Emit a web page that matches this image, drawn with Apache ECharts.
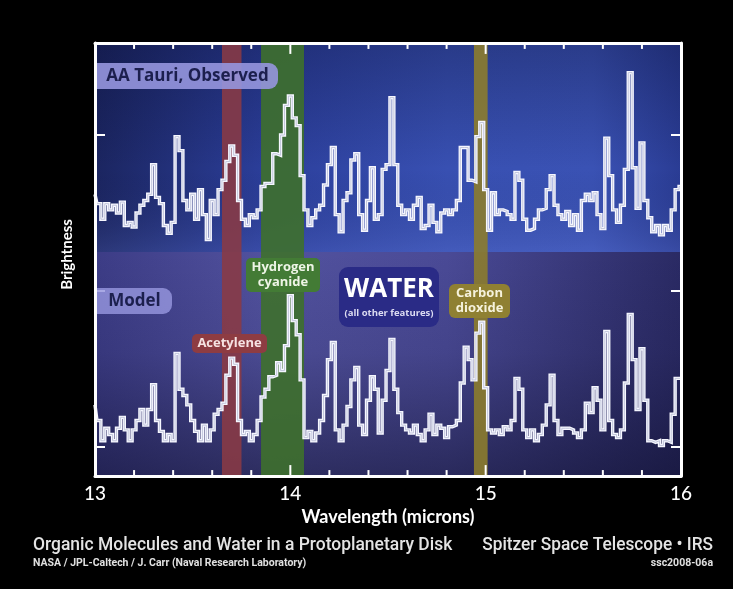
<!DOCTYPE html>
<html>
<head>
<meta charset="utf-8">
<script src="https://cdn.jsdelivr.net/npm/echarts@6/dist/echarts.min.js"></script>
<style>
  html, body { margin: 0; padding: 0; background: #000; }
  #chart { width: 733px; height: 589px; }
</style>
</head>
<body>
<div id="chart"></div>
<script>
// Spectral sampling grid (microns)
const wavelength = [
  13.00,13.02,13.04,13.06,13.08,13.10,13.12,13.14,13.16,13.18,
  13.20,13.22,13.24,13.26,13.28,13.30,13.32,13.34,13.36,13.38,
  13.40,13.42,13.44,13.46,13.48,13.50,13.52,13.54,13.56,13.58,
  13.60,13.62,13.64,13.66,13.68,13.70,13.72,13.74,13.76,13.78,
  13.80,13.82,13.84,13.86,13.88,13.90,13.92,13.94,13.96,13.98,
  14.00,14.02,14.04,14.06,14.08,14.10,14.12,14.14,14.16,14.18,
  14.20,14.22,14.24,14.26,14.28,14.30,14.32,14.34,14.36,14.38,
  14.40,14.42,14.44,14.46,14.48,14.50,14.52,14.54,14.56,14.58,
  14.60,14.62,14.64,14.66,14.68,14.70,14.72,14.74,14.76,14.78,
  14.80,14.82,14.84,14.86,14.88,14.90,14.92,14.94,14.96,14.98,
  15.00,15.02,15.04,15.06,15.08,15.10,15.12,15.14,15.16,15.18,
  15.20,15.22,15.24,15.26,15.28,15.30,15.32,15.34,15.36,15.38,
  15.40,15.42,15.44,15.46,15.48,15.50,15.52,15.54,15.56,15.58,
  15.60,15.62,15.64,15.66,15.68,15.70,15.72,15.74,15.76,15.78,
  15.80,15.82,15.84,15.86,15.88,15.90,15.92,15.94,15.96,15.98,
  16.00
];

// AA Tauri observed spectrum (offset brightness units)
const observed = [
  16.2,15.6,14.6,15.6,15.2,15.5,15.0,15.7,14.2,14.4,
  14.1,15.0,15.5,15.8,16.2,18.1,16.0,15.6,14.2,13.7,
  14.4,19.9,19.0,15.8,15.2,16.2,14.6,16.5,14.9,13.3,
  15.8,14.9,16.5,17.1,18.3,19.3,18.7,15.8,14.6,14.2,
  14.9,14.7,15.2,16.7,16.9,16.9,18.8,18.7,20.0,21.9,
  22.5,21.1,20.6,17.4,15.2,14.2,14.7,15.2,15.5,16.8,
  18.1,19.2,14.9,13.8,15.8,16.3,18.4,18.8,14.9,13.9,
  15.8,17.9,14.6,14.9,17.8,18.1,22.4,18.1,15.5,14.9,
  15.2,14.6,15.5,16.0,14.0,14.2,15.5,14.4,13.8,15.0,
  15.2,14.9,15.2,15.8,19.2,19.2,17.1,17.0,19.9,20.8,
  16.5,13.9,16.3,14.9,15.2,15.1,14.9,14.6,17.6,17.1,
  14.6,13.9,14.0,14.6,15.2,15.3,16.5,17.4,15.5,14.9,
  14.6,15.1,14.2,14.9,13.9,15.8,16.2,15.8,16.3,14.9,
  14.0,19.8,17.4,15.2,14.4,15.5,17.8,24.0,17.9,15.3,
  19.5,15.8,14.7,13.8,14.2,13.6,14.2,13.9,15.2,16.5,
  16.7
];

// Model spectrum (offset brightness units)
const model = [
  2.7,1.7,0.4,1.2,0.8,0.4,1.2,1.9,1.1,0.4,
  1.1,1.7,2.4,1.4,2.4,4.0,1.7,1.0,0.4,0.8,
  0.4,6.0,3.7,3.3,2.7,1.7,1.0,0.4,1.4,0.4,
  1.1,2.1,2.4,2.8,4.6,5.7,5.3,1.7,0.8,1.0,
  0.4,0.8,1.7,3.2,3.7,4.5,4.6,5.4,4.9,6.5,
  9.7,8.1,7.2,4.3,0.6,1.0,0.4,0.9,1.7,3.3,
  5.6,6.7,1.1,0.4,1.4,2.6,4.3,5.1,1.4,0.8,
  3.0,4.5,3.7,0.9,3.0,4.9,6.9,3.7,2.2,1.4,
  1.1,0.9,1.4,0.8,0.4,1.1,2.1,0.8,1.4,1.2,
  0.6,1.3,1.4,1.7,4.1,6.4,5.6,4.3,7.3,8.0,
  3.8,1.1,0.9,1.1,0.8,1.3,1.1,1.7,4.4,3.7,
  1.1,0.6,1.1,0.4,0.8,1.4,2.7,4.6,1.7,0.8,
  1.2,1.2,1.1,0.9,0.6,1.1,2.8,2.2,3.8,3.0,
  1.1,7.4,1.7,0.8,0.6,1.1,4.1,8.5,5.6,2.4,
  6.3,3.0,0.4,0.3,0.4,0.1,0.4,0.3,2.1,4.4,
  4.4
];

// Axis ticks
const xTicks = [13, 14, 15, 16];
const xMinorTicks = [13.2, 13.4, 13.6, 13.8, 14.2, 14.4, 14.6, 14.8, 15.2, 15.4, 15.6, 15.8];
const yTicks = [0, 10, 20];
const xRange = [13, 16];
const yRange = [-1.86, 25.9];

// Boundary between the observed panel (above) and the model panel (below)
const panelSplit = 12.5;

// Molecular bands (microns)
const bandNames = ['Acetylene', 'Hydrogen cyanide', 'Carbon dioxide'];
const bandFrom = [13.65, 13.85, 14.94];
const bandTo = [13.75, 14.07, 15.01];
const bandColors = ['rgba(138,58,68,0.88)', 'rgba(62,112,44,0.9)', 'rgba(140,124,46,0.9)'];

const chart = echarts.init(document.getElementById('chart'), null, { renderer: 'canvas' });

function pairs(values) {
  return values.map((v, i) => [wavelength[i], v]);
}

const white = '#ffffff';

// Inward tick marks along the top and bottom frame: [wavelength, from, to] in axis units
const majorTickLen = 0.7;
const minorTickLen = 0.38;
function frameTicks(values, len) {
  const out = [];
  values.forEach(v => {
    out.push([v, yRange[0], yRange[0] + len]);
    out.push([v, yRange[1], yRange[1] - len]);
  });
  return out;
}

function xAxisDef(position, extra) {
  return Object.assign({
    type: 'value',
    position: position,
    min: xRange[0],
    max: xRange[1],
    interval: 1,
    z: 10,
    splitLine: { show: false },
    axisLine: { show: true, onZero: false, lineStyle: { color: white, width: 3 } },
    axisTick: { show: false },
    axisLabel: { show: false }
  }, extra || {});
}

const yCommon = {
  type: 'value',
  min: yRange[0],
  max: yRange[1],
  z: 10,
  splitLine: { show: false },
  axisLine: { show: true, onZero: false, lineStyle: { color: white, width: 3 } },
  axisTick: { show: true, inside: true, length: 10, customValues: yTicks, lineStyle: { color: white, width: 2 } },
  axisLabel: { show: false, customValues: yTicks }
};

function linear(x2, y2, stops) {
  return { type: 'linear', x: 0, y: 0, x2: x2, y2: y2,
    colorStops: stops.map(s => ({ offset: s[0], color: s[1] })) };
}

function panelArea(y0, y1, color) {
  return [
    { xAxis: xRange[0], yAxis: y0, itemStyle: { color: color } },
    { xAxis: xRange[1], yAxis: y1 }
  ];
}

// Panel backdrops: a horizontal tint with a vertical shading layer on top
const backgroundAreas = [
  panelArea(panelSplit, yRange[1], linear(1, 0, [
    [0, '#1b2560'], [0.3, '#2c3f9c'], [0.6, '#3850b2'], [0.85, '#3a52b4'], [1, '#2a3c94']])),
  panelArea(panelSplit, yRange[1], linear(0, 1, [
    [0, 'rgba(5,8,40,0.30)'], [0.6, 'rgba(5,8,40,0)'], [1, 'rgba(120,140,230,0.18)']])),
  panelArea(yRange[0], panelSplit, linear(1, 0, [
    [0, '#3c3c86'], [0.3, '#52529f'], [0.6, '#4a4a96'], [1, '#2a2a64']])),
  panelArea(yRange[0], panelSplit, linear(0, 1, [
    [0, 'rgba(10,10,35,0)'], [0.45, 'rgba(10,10,35,0.1)'], [1, 'rgba(10,10,35,0.5)']]))
];

const bandAreas = bandNames.map((n, i) => [
  { name: n, xAxis: bandFrom[i], yAxis: yRange[0], itemStyle: { color: bandColors[i] } },
  { xAxis: bandTo[i], yAxis: yRange[1] }
]);

function traceSeries(name, values, color, width, z) {
  return {
    name: name,
    type: 'line',
    step: 'middle',
    data: pairs(values),
    showSymbol: false,
    symbol: 'none',
    silent: true,
    z: z,
    lineStyle: { color: color, width: width, join: 'miter' }
  };
}

// Rounded label boxes inside the plot
function labelBox(x, y, w, h, r, fill, text, font, color, lineHeight) {
  const textStyle = { text: text, x: x + w / 2, y: y + h / 2, align: 'center', verticalAlign: 'middle',
    font: font, fill: color };
  if (lineHeight) textStyle.lineHeight = lineHeight;
  return {
    type: 'group',
    z: 100,
    children: [
      { type: 'rect', z: 100, shape: { x: x, y: y, width: w, height: h, r: r }, style: { fill: fill } },
      { type: 'text', z: 101, style: textStyle }
    ]
  };
}

const option = {
  backgroundColor: '#000',
  animation: false,
  grid: { left: 95, right: 52, top: 43, bottom: 113 },
  xAxis: [
    xAxisDef('bottom', {
      axisLabel: { show: true, color: white, fontSize: 19, fontFamily: 'Lato', fontWeight: 500, margin: 8,
        customValues: xTicks },
      name: 'Wavelength (microns)',
      nameLocation: 'middle',
      nameGap: 31,
      nameTextStyle: { color: white, fontSize: 18, fontFamily: 'Lato', fontWeight: 'bold' }
    }),
    xAxisDef('top')
  ],
  yAxis: [
    Object.assign({}, yCommon, {
      position: 'left',
      name: 'Brightness',
      nameLocation: 'middle',
      nameRotate: 90,
      nameGap: 20,
      nameTextStyle: { color: white, fontSize: 15, fontFamily: 'Lato', fontWeight: 'bold', padding: [0, 0, 0, 10] }
    }),
    Object.assign({}, yCommon, { position: 'right' })
  ],
  series: [
    {
      name: 'backdrop',
      type: 'line',
      data: [],
      silent: true,
      z: 1,
      markArea: { silent: true, label: { show: false }, data: backgroundAreas }
    },
    {
      name: 'bands',
      type: 'line',
      data: [],
      silent: true,
      z: 2,
      markArea: { silent: true, label: { show: false }, data: bandAreas }
    },
    traceSeries('AA Tauri, Observed', observed, '#f6f7ff', 3.4, 5),
    traceSeries('AA Tauri, Observed core', observed, '#c3c7dc', 1, 6),
    traceSeries('Model', model, '#f6f7ff', 3.4, 5),
    traceSeries('Model core', model, '#c3c7dc', 1, 6),
    {
      name: 'frame ticks',
      type: 'custom',
      silent: true,
      z: 20,
      clip: false,
      encode: { x: 0, y: [1, 2] },
      data: frameTicks(xTicks, majorTickLen).concat(frameTicks(xMinorTicks, minorTickLen)),
      renderItem: function (params, api) {
        const p0 = api.coord([api.value(0), api.value(1)]);
        const p1 = api.coord([api.value(0), api.value(2)]);
        return {
          type: 'line',
          shape: { x1: p0[0], y1: p0[1], x2: p1[0], y2: p1[1] },
          style: { stroke: white, lineWidth: 2 }
        };
      }
    }
  ],
  graphic: [
    labelBox(97, 63, 181, 26, [0, 9, 9, 0], 'rgba(150,150,222,0.9)', 'AA Tauri, Observed',
      'bold 17px "Open Sans"', '#1c1f4e'),
    labelBox(97, 288, 75, 26, [0, 9, 9, 0], 'rgba(150,150,222,0.82)', 'Model',
      'bold 17px "Open Sans"', '#1c1f4e'),
    labelBox(192, 334, 75, 19, 5, '#8e3c42', 'Acetylene', 'bold 13px "Open Sans"', '#f6e2e2'),
    labelBox(246, 258, 74, 34, 5, '#437b35', 'Hydrogen\ncyanide', 'bold 13px "Open Sans"', '#eef5e6', 15),
    labelBox(449, 284, 61, 34, 6, '#8f8032', 'Carbon\ndioxide', 'bold 13px "Open Sans"', '#f6f2dc', 15),
    {
      type: 'group',
      z: 100,
      children: [
        { type: 'rect', z: 100, shape: { x: 339, y: 267, width: 100, height: 60, r: 9 }, style: { fill: '#2a2b86' } },
        { type: 'text', z: 101, style: { text: 'WATER', x: 389, y: 290, align: 'center', verticalAlign: 'middle',
            font: 'bold 26px "Open Sans"', fill: '#ffffff' } },
        { type: 'text', z: 101, style: { text: '(all other features)', x: 389, y: 313, align: 'center', verticalAlign: 'middle',
            font: 'bold 9.5px "Open Sans"', fill: '#dcdcf2' } }
      ]
    },
    { type: 'text', z: 100, x: 33, y: 545, scaleX: 0.97, style: { text: 'Organic Molecules and Water in a Protoplanetary Disk',
        x: 0, y: 0, verticalAlign: 'middle', font: '500 18px Roboto', fill: '#e4e4e4' } },
    { type: 'text', z: 100, x: 33, y: 563, style: { text: 'NASA / JPL-Caltech / J. Carr (Naval Research Laboratory)',
        x: 0, y: 0, verticalAlign: 'middle', font: 'bold 10.5px Roboto', fill: '#e0e0e0' } },
    { type: 'text', z: 100, x: 713, y: 545, scaleX: 0.96, style: { text: 'Spitzer Space Telescope \u2022 IRS',
        x: 0, y: 0, align: 'right', verticalAlign: 'middle', font: '500 18px Roboto', fill: '#e4e4e4' } },
    { type: 'text', z: 100, x: 713, y: 563, style: { text: 'ssc2008-06a',
        x: 0, y: 0, align: 'right', verticalAlign: 'middle', font: 'bold 10.5px Roboto', fill: '#e0e0e0' } }
  ]
};

chart.setOption(option);
</script>
</body>
</html>
